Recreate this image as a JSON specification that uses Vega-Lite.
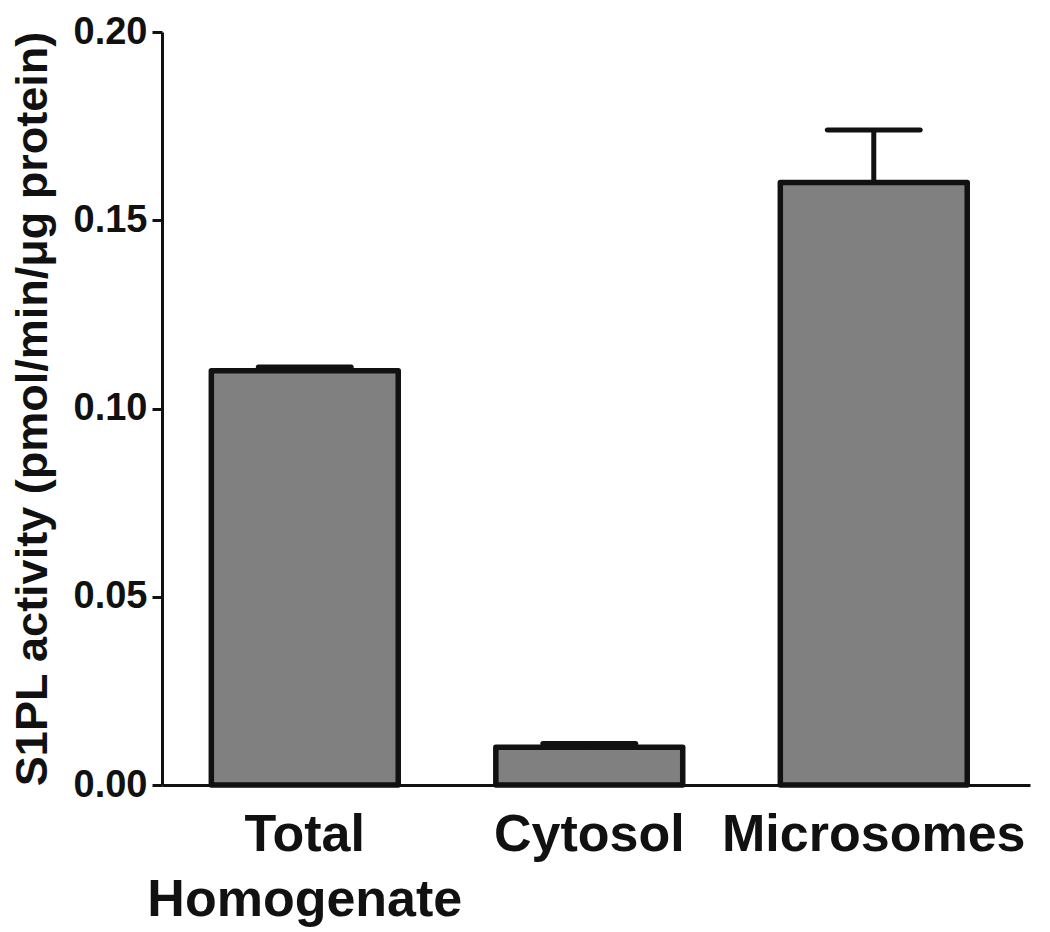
{
  "$schema": "https://vega.github.io/schema/vega-lite/v6.json",
  "width": 868,
  "height": 753,
  "autosize": {"type": "none"},
  "padding": {"left": 162, "top": 32, "right": 20, "bottom": 147},
  "background": "white",
  "data": {
    "values": [
      {"fraction": "Total Homogenate", "activity": 0.110, "upper": 0.111},
      {"fraction": "Cytosol", "activity": 0.010, "upper": 0.011},
      {"fraction": "Microsomes", "activity": 0.160, "upper": 0.174}
    ]
  },
  "encoding": {
    "x": {
      "field": "fraction",
      "type": "nominal",
      "sort": null,
      "scale": {"paddingInner": 0.343, "paddingOuter": 0.197, "align": 0.44},
      "axis": {
        "title": null,
        "labelAngle": 0,
        "ticks": false,
        "domainColor": "#111111",
        "domainWidth": 3,
        "labelFont": "Liberation Sans",
        "labelFontWeight": "bold",
        "labelFontSize": 52,
        "labelColor": "#111111",
        "labelPadding": 24,
        "labelLineHeight": 65,
        "labelLimit": 0,
        "labelOverlap": false,
        "labelExpr": "datum.label == 'Total Homogenate' ? ['Total', 'Homogenate'] : datum.label"
      }
    }
  },
  "layer": [
    {
      "mark": {"type": "bar", "fill": "#808080", "stroke": "#111111", "strokeWidth": 5.5, "strokeJoin": "round"},
      "encoding": {
        "y": {
          "field": "activity",
          "type": "quantitative",
          "scale": {"domain": [0, 0.2], "nice": false},
          "axis": {
            "title": "S1PL activity (pmol/min/μg protein)",
            "values": [0, 0.05, 0.1, 0.15, 0.2],
            "format": ".2f",
            "grid": false,
            "domainColor": "#111111",
            "domainWidth": 3,
            "tickColor": "#111111",
            "tickWidth": 3,
            "tickSize": 10,
            "labelFont": "Liberation Sans",
            "labelFontWeight": "bold",
            "labelFontSize": 38,
            "labelColor": "#111111",
            "labelPadding": 5,
            "titleFont": "Liberation Sans",
            "titleFontWeight": "bold",
            "titleFontSize": 45,
            "titleColor": "#111111",
            "titlePadding": 18
          }
        }
      }
    },
    {
      "mark": {"type": "rule", "stroke": "#111111", "strokeWidth": 5},
      "encoding": {
        "y": {"field": "activity", "type": "quantitative"},
        "y2": {"field": "upper"}
      }
    },
    {
      "mark": {"type": "tick", "color": "#111111", "size": 98, "thickness": 5, "cornerRadius": 2.5, "opacity": 1},
      "encoding": {
        "y": {"field": "upper", "type": "quantitative"}
      }
    }
  ],
  "config": {
    "view": {"stroke": null}
  }
}
